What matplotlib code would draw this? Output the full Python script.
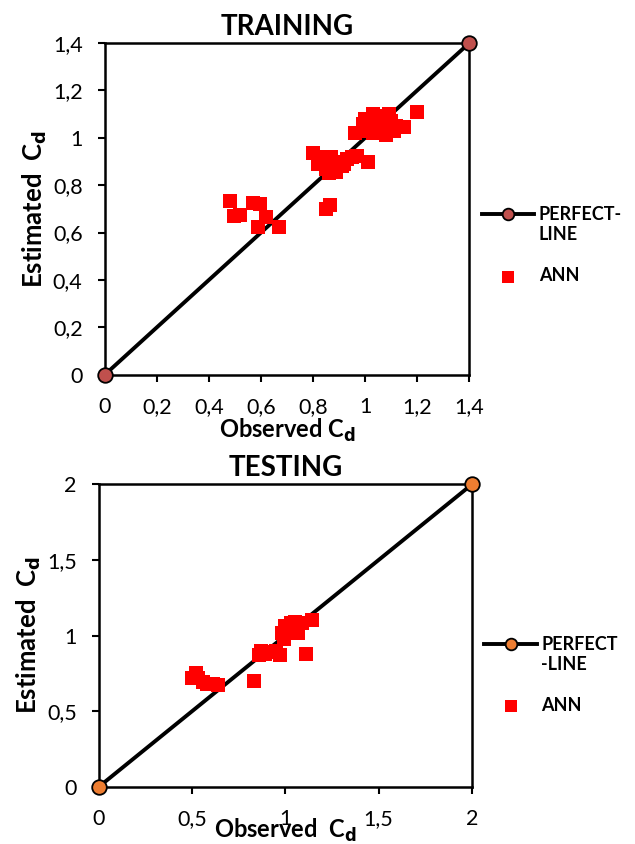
import matplotlib
matplotlib.use('Agg')
from matplotlib import pyplot as plt
from matplotlib.legend_handler import HandlerLine2D
import numpy as np

plt.rcParams['font.family'] = ['Lato', 'DejaVu Sans']

# training set: observed vs estimated Cd (ANN)
train_obs = [0.48, 0.495, 0.52, 0.57, 0.595, 0.59, 0.62, 0.67, 0.85, 0.865,
             0.80, 0.82, 0.84, 0.85, 0.86, 0.87, 0.88, 0.89, 0.90, 0.91,
             0.92, 0.93, 0.95, 0.97, 1.01, 0.87,
             0.96, 0.99, 1.00, 1.02, 1.03, 1.04, 1.05, 1.06, 1.07, 1.08,
             1.09, 1.10, 1.11, 1.12, 1.15, 1.20, 1.00, 1.08, 1.03]
train_est = [0.735, 0.67, 0.675, 0.725, 0.72, 0.625, 0.665, 0.625, 0.70, 0.715,
             0.935, 0.89, 0.92, 0.87, 0.85, 0.92, 0.88, 0.855, 0.90, 0.88,
             0.89, 0.91, 0.92, 0.925, 0.90, 0.86,
             1.02, 1.06, 1.08, 1.04, 1.02, 1.06, 1.09, 1.03, 1.05, 1.01,
             1.10, 1.07, 1.03, 1.05, 1.045, 1.11, 1.03, 1.08, 1.10]

# testing set
test_obs = [0.50, 0.52, 0.53, 0.56, 0.58, 0.61, 0.64, 0.83, 0.86, 0.87, 0.89,
            0.92, 0.95, 0.97, 0.98, 1.00, 1.03, 1.05, 1.07, 1.09, 1.11, 1.14,
            1.06, 0.99]
test_est = [0.72, 0.75, 0.72, 0.69, 0.68, 0.68, 0.67, 0.70, 0.87, 0.90, 0.88,
            0.89, 0.90, 0.87, 1.02, 1.06, 1.08, 1.09, 1.02, 1.08, 0.88, 1.10,
            1.04, 0.98]

train_line = [0, 1.4]
test_line = [0, 2]
train_ticks = [0, 0.2, 0.4, 0.6, 0.8, 1, 1.2, 1.4]
train_labels = ['0', '0,2', '0,4', '0,6', '0,8', '1', '1,2', '1,4']
test_ticks = [0, 0.5, 1, 1.5, 2]
test_labels = ['0', '0,5', '1', '1,5', '2']


# legend line sits on the first line of a two-line label
class FirstLineHandler(HandlerLine2D):
    def create_artists(self, legend, orig_handle, xdescent, ydescent,
                       width, height, fontsize, trans):
        arts = super().create_artists(legend, orig_handle, xdescent, ydescent,
                                      width, height, fontsize, trans)
        for a in arts:
            a.set_ydata(np.asarray(a.get_ydata(), float) + 0.62 * fontsize)
        return arts


fig = plt.figure(figsize=(6.35, 8.44), dpi=100)


def panel(rect, obs, est, line, ticks, labels, title, dot_color, leg_label,
          xlab, xpad, leg_y):
    ax = fig.add_axes(rect)
    ln, = ax.plot(line, line, color='black', lw=2.8, marker='o', ms=10.5,
                  mfc=dot_color, mec='black', mew=1.3, clip_on=False, zorder=3,
                  label=leg_label)
    ax.scatter(obs, est, marker='s', s=110, color='#ff0000', lw=0,
               zorder=4, label='ANN')
    ax.set_xlim(line)
    ax.set_ylim(line)
    ax.set_xticks(ticks)
    ax.set_xticklabels(labels)
    ax.set_yticks(ticks)
    ax.set_yticklabels(labels)
    for s in ax.spines.values():
        s.set_linewidth(1.8)
    ax.tick_params(direction='out', length=5, width=1.5, labelsize=15.5, pad=11)
    ax.set_title(title, fontsize=20, fontweight='bold', pad=6)
    ax.set_xlabel(xlab, fontsize=17, fontweight='bold', labelpad=xpad)
    ax.set_ylabel('Estimated  C$_\\mathbf{d}$', fontsize=18.5, fontweight='bold',
                  labelpad=3)
    ax.legend(loc='center left', bbox_to_anchor=(0.995, leg_y), frameon=False,
              prop={'size': 13, 'weight': 'bold'}, handlelength=2.9,
              labelspacing=1.35, handletextpad=0.25, markerscale=0.8,
              borderpad=0.3, handler_map={ln: FirstLineHandler()})
    return ax


panel([0.165, 0.556, 0.574, 0.393], train_obs, train_est, train_line,
      train_ticks, train_labels, 'TRAINING', '#c0504d', 'PERFECT-\nLINE',
      'Observed C$_\\mathbf{d}$', 0, 0.39)
panel([0.156, 0.068, 0.587, 0.358], test_obs, test_est, test_line,
      test_ticks, test_labels, 'TESTING', '#ed7d31', 'PERFECT\n-LINE',
      'Observed  C$_\\mathbf{d}$', -9, 0.37)

fig.savefig('out.png', dpi=100)
